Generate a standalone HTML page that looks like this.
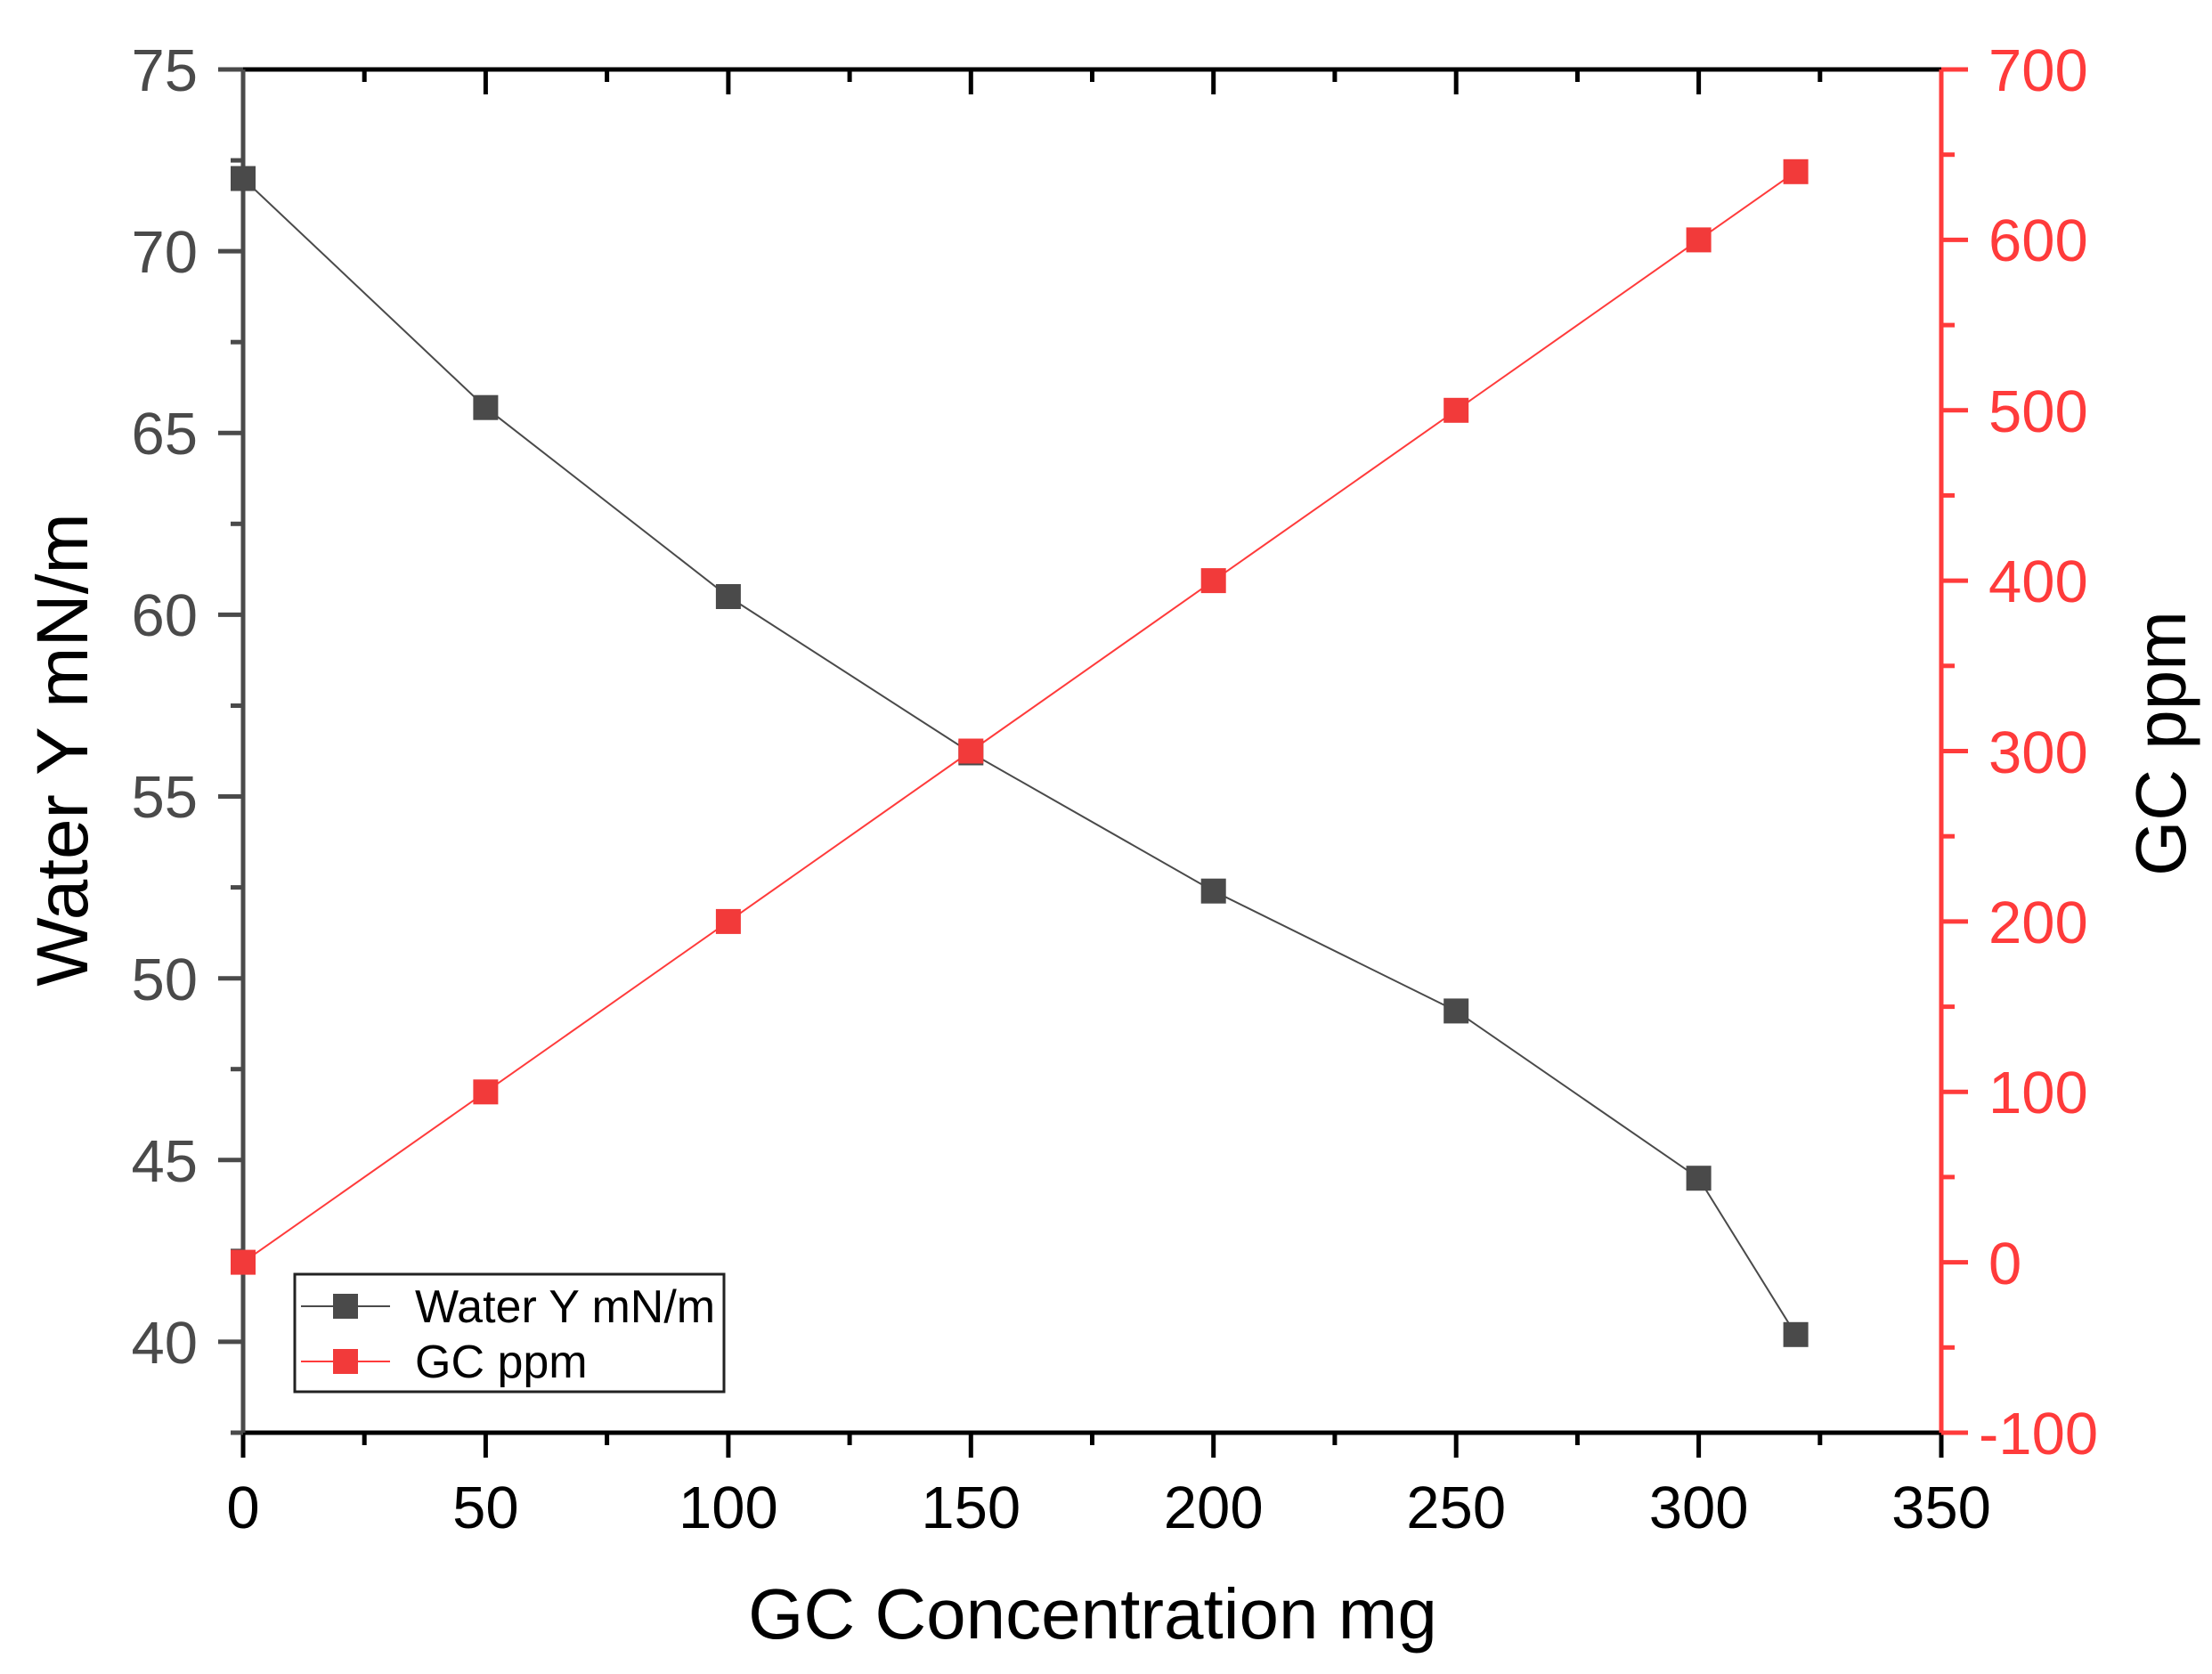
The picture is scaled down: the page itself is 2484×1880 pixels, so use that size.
<!DOCTYPE html>
<html><head><meta charset="utf-8"><style>
html,body{margin:0;padding:0;background:#fff;}
svg{display:block;}
text{font-family:"Liberation Sans",Arial,sans-serif;}
</style></head><body>
<svg width="2484" height="1880" viewBox="0 0 2484 1880" xmlns="http://www.w3.org/2000/svg">
<rect width="2484" height="1880" fill="#fff"/>
<g stroke="#000" stroke-width="5">
<line x1="273" y1="78" x2="2180" y2="78"/>
<line x1="273" y1="1609" x2="2180" y2="1609"/>
<line x1="273" y1="78" x2="273" y2="106"/><line x1="409.2" y1="78" x2="409.2" y2="92"/>
<line x1="545.4" y1="78" x2="545.4" y2="106"/><line x1="681.6" y1="78" x2="681.6" y2="92"/>
<line x1="817.9" y1="78" x2="817.9" y2="106"/><line x1="954.1" y1="78" x2="954.1" y2="92"/>
<line x1="1090.3" y1="78" x2="1090.3" y2="106"/><line x1="1226.5" y1="78" x2="1226.5" y2="92"/>
<line x1="1362.7" y1="78" x2="1362.7" y2="106"/><line x1="1498.9" y1="78" x2="1498.9" y2="92"/>
<line x1="1635.2" y1="78" x2="1635.2" y2="106"/><line x1="1771.4" y1="78" x2="1771.4" y2="92"/>
<line x1="1907.6" y1="78" x2="1907.6" y2="106"/><line x1="2043.8" y1="78" x2="2043.8" y2="92"/>
<line x1="273" y1="1609" x2="273" y2="1637"/><line x1="409.2" y1="1609" x2="409.2" y2="1623"/>
<line x1="545.4" y1="1609" x2="545.4" y2="1637"/><line x1="681.6" y1="1609" x2="681.6" y2="1623"/>
<line x1="817.9" y1="1609" x2="817.9" y2="1637"/><line x1="954.1" y1="1609" x2="954.1" y2="1623"/>
<line x1="1090.3" y1="1609" x2="1090.3" y2="1637"/><line x1="1226.5" y1="1609" x2="1226.5" y2="1623"/>
<line x1="1362.7" y1="1609" x2="1362.7" y2="1637"/><line x1="1498.9" y1="1609" x2="1498.9" y2="1623"/>
<line x1="1635.2" y1="1609" x2="1635.2" y2="1637"/><line x1="1771.4" y1="1609" x2="1771.4" y2="1623"/>
<line x1="1907.6" y1="1609" x2="1907.6" y2="1637"/><line x1="2043.8" y1="1609" x2="2043.8" y2="1623"/>
<line x1="2180" y1="1609" x2="2180" y2="1637"/>
</g>
<g font-size="67" text-anchor="middle" fill="#000">
<text x="273" y="1716">0</text><text x="545.4" y="1716">50</text><text x="817.9" y="1716">100</text>
<text x="1090.3" y="1716">150</text><text x="1362.7" y="1716">200</text><text x="1635.2" y="1716">250</text>
<text x="1907.6" y="1716">300</text><text x="2180" y="1716">350</text>
</g>
<g stroke="#4a4a4a" stroke-width="5">
<line x1="273" y1="78" x2="273" y2="1609"/>
<line x1="245" y1="78" x2="273" y2="78"/><line x1="259" y1="180.1" x2="273" y2="180.1"/>
<line x1="245" y1="282.1" x2="273" y2="282.1"/><line x1="259" y1="384.2" x2="273" y2="384.2"/>
<line x1="245" y1="486.3" x2="273" y2="486.3"/><line x1="259" y1="588.3" x2="273" y2="588.3"/>
<line x1="245" y1="690.4" x2="273" y2="690.4"/><line x1="259" y1="792.5" x2="273" y2="792.5"/>
<line x1="245" y1="894.5" x2="273" y2="894.5"/><line x1="259" y1="996.6" x2="273" y2="996.6"/>
<line x1="245" y1="1098.7" x2="273" y2="1098.7"/><line x1="259" y1="1200.7" x2="273" y2="1200.7"/>
<line x1="245" y1="1302.8" x2="273" y2="1302.8"/><line x1="259" y1="1404.9" x2="273" y2="1404.9"/>
<line x1="245" y1="1506.9" x2="273" y2="1506.9"/><line x1="259" y1="1609" x2="273" y2="1609"/>
</g>
<g font-size="67" text-anchor="end" fill="#4a4a4a">
<text x="222" y="102">75</text><text x="222" y="306">70</text><text x="222" y="510">65</text>
<text x="222" y="714">60</text><text x="222" y="918">55</text><text x="222" y="1123">50</text>
<text x="222" y="1327">45</text><text x="222" y="1531">40</text>
</g>
<g stroke="#ff3b3b" stroke-width="5">
<line x1="2180" y1="78" x2="2180" y2="1609"/>
<line x1="2180" y1="78" x2="2210" y2="78"/><line x1="2180" y1="173.7" x2="2195" y2="173.7"/>
<line x1="2180" y1="269.4" x2="2210" y2="269.4"/><line x1="2180" y1="365.1" x2="2195" y2="365.1"/>
<line x1="2180" y1="460.8" x2="2210" y2="460.8"/><line x1="2180" y1="556.4" x2="2195" y2="556.4"/>
<line x1="2180" y1="652.1" x2="2210" y2="652.1"/><line x1="2180" y1="747.8" x2="2195" y2="747.8"/>
<line x1="2180" y1="843.5" x2="2210" y2="843.5"/><line x1="2180" y1="939.2" x2="2195" y2="939.2"/>
<line x1="2180" y1="1034.9" x2="2210" y2="1034.9"/><line x1="2180" y1="1130.6" x2="2195" y2="1130.6"/>
<line x1="2180" y1="1226.3" x2="2210" y2="1226.3"/><line x1="2180" y1="1321.9" x2="2195" y2="1321.9"/>
<line x1="2180" y1="1417.6" x2="2210" y2="1417.6"/><line x1="2180" y1="1513.3" x2="2195" y2="1513.3"/>
<line x1="2180" y1="1609" x2="2210" y2="1609"/>
</g>
<g font-size="67" fill="#ff3b3b">
<text x="2233" y="102">700</text><text x="2233" y="293">600</text><text x="2233" y="485">500</text>
<text x="2233" y="676">400</text><text x="2233" y="868">300</text><text x="2233" y="1059">200</text>
<text x="2233" y="1250">100</text><text x="2233" y="1442">0</text><text x="2222" y="1633">-100</text>
</g>
<polyline points="273,200.5 545.4,457.7 817.9,670 1090.3,845.5 1362.7,1000.7 1635.2,1135.4 1907.6,1323.2 2016.6,1498.8" fill="none" stroke="#4a4a4a" stroke-width="2"/>
<polyline points="273,1417.6 545.4,1226.3 817.9,1034.9 1090.3,843.5 1362.7,652.1 1635.2,460.8 1907.6,269.4 2016.6,192.8" fill="none" stroke="#ff3b3b" stroke-width="2"/>
<g fill="#4a4a4a">
<rect x="259" y="186.5" width="28" height="28"/><rect x="531.4" y="443.7" width="28" height="28"/>
<rect x="803.9" y="656" width="28" height="28"/><rect x="1076.3" y="831.5" width="28" height="28"/>
<rect x="1348.7" y="986.7" width="28" height="28"/><rect x="1621.2" y="1121.4" width="28" height="28"/>
<rect x="1893.6" y="1309.2" width="28" height="28"/><rect x="2002.6" y="1484.8" width="28" height="28"/>
</g>
<g fill="#f23a3a">
<rect x="259" y="1403.6" width="28" height="28"/><rect x="531.4" y="1212.3" width="28" height="28"/>
<rect x="803.9" y="1020.9" width="28" height="28"/><rect x="1076.3" y="829.5" width="28" height="28"/>
<rect x="1348.7" y="638.1" width="28" height="28"/><rect x="1621.2" y="446.8" width="28" height="28"/>
<rect x="1893.6" y="255.4" width="28" height="28"/><rect x="2002.6" y="178.8" width="28" height="28"/>
</g>
<rect x="331" y="1431" width="482" height="132" fill="#fff" stroke="#222" stroke-width="3"/>
<line x1="338" y1="1467" x2="438" y2="1467" stroke="#4a4a4a" stroke-width="2"/>
<rect x="374" y="1453" width="28" height="28" fill="#4a4a4a"/>
<line x1="338" y1="1529" x2="438" y2="1529" stroke="#ff3b3b" stroke-width="2"/>
<rect x="374" y="1515" width="28" height="28" fill="#f23a3a"/>
<text x="466" y="1485" font-size="52" fill="#000">Water Y mN/m</text>
<text x="466" y="1547" font-size="52" fill="#000">GC ppm</text>
<text x="1227" y="1840" font-size="80" text-anchor="middle" fill="#000">GC Concentration mg</text>
<text transform="translate(98,842) rotate(-90)" font-size="82" text-anchor="middle" fill="#000">Water Y mN/m</text>
<text transform="translate(2454,835) rotate(-90)" font-size="80" text-anchor="middle" fill="#000">GC ppm</text>
</svg>
</body></html>
